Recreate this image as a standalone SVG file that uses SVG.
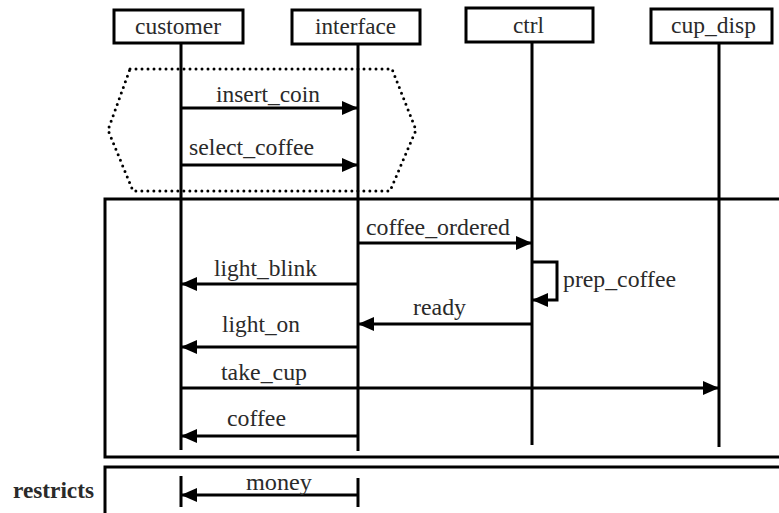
<svg xmlns="http://www.w3.org/2000/svg" width="779" height="513" viewBox="0 0 779 513">
<defs>
<marker id="ah" viewBox="0 0 16 14" refX="16" refY="7" markerWidth="16" markerHeight="14" markerUnits="userSpaceOnUse" orient="auto">
<path d="M0,0 L16,7 L0,14 Z" fill="#000"/>
</marker>
</defs>
<style>
.box{fill:#fff;stroke:#000;stroke-width:3}
.life{stroke:#000;stroke-width:3;fill:none}
.msg{stroke:#000;stroke-width:3;fill:none;marker-end:url(#ah)}
.frame{fill:none;stroke:#000;stroke-width:3}
text{font-family:"Liberation Serif","Times New Roman",serif;font-size:24px;fill:#2a2a2a}
</style>
<rect width="779" height="513" fill="#fff"/>
<!-- frames -->
<polygon points="130,69 392,69 416,130 390,191 133,191 108,130" fill="none" stroke="#000" stroke-width="3" stroke-dasharray="0 6" stroke-linecap="round"/>
<rect class="frame" x="105" y="199" width="690" height="258"/>
<rect class="frame" x="105" y="467" width="690" height="60"/>
<text x="13" y="498" textLength="81" lengthAdjust="spacingAndGlyphs" font-weight="bold" font-size="22">restricts</text>

<g id="customer">
<line class="life" x1="181" y1="43" x2="181" y2="450"/>
<rect class="box" x="114" y="10" width="129" height="33"/>
<text x="135" y="34" textLength="86" lengthAdjust="spacingAndGlyphs">customer</text>
</g>
<g id="interface">
<line class="life" x1="358" y1="44" x2="358" y2="451"/>
<rect class="box" x="292" y="10" width="128" height="34"/>
<text x="315" y="34" textLength="81" lengthAdjust="spacingAndGlyphs">interface</text>
</g>
<g id="ctrl">
<line class="life" x1="532" y1="42" x2="532" y2="445"/>
<rect class="box" x="466" y="8" width="127" height="34"/>
<text x="513" y="33" textLength="31" lengthAdjust="spacingAndGlyphs">ctrl</text>
</g>
<g id="cup_disp">
<line class="life" x1="719" y1="43" x2="719" y2="447"/>
<rect class="box" x="651" y="9" width="121" height="34"/>
<text x="671" y="33" textLength="85" lengthAdjust="spacingAndGlyphs">cup_disp</text>
</g>

<g id="connectors">
<line class="msg" x1="181" y1="108" x2="358" y2="108"/>
<text x="216" y="102" textLength="104" lengthAdjust="spacingAndGlyphs">insert_coin</text>
<line class="msg" x1="181" y1="165" x2="358" y2="165"/>
<text x="189" y="155" textLength="125" lengthAdjust="spacingAndGlyphs">select_coffee</text>
<line class="msg" x1="358" y1="243" x2="532" y2="243"/>
<text x="366" y="235" textLength="144" lengthAdjust="spacingAndGlyphs">coffee_ordered</text>
<line class="msg" x1="358" y1="284" x2="181" y2="284"/>
<text x="214" y="276" textLength="103" lengthAdjust="spacingAndGlyphs">light_blink</text>
<polyline class="msg" points="532,262 557,262 557,300 532,300"/>
<text x="563" y="287" textLength="113" lengthAdjust="spacingAndGlyphs">prep_coffee</text>
<line class="msg" x1="532" y1="324" x2="358" y2="324"/>
<text x="413" y="315" textLength="53" lengthAdjust="spacingAndGlyphs">ready</text>
<line class="msg" x1="358" y1="347" x2="181" y2="347"/>
<text x="222" y="332" textLength="78" lengthAdjust="spacingAndGlyphs">light_on</text>
<line class="msg" x1="181" y1="388" x2="719" y2="388"/>
<text x="221" y="380" textLength="86" lengthAdjust="spacingAndGlyphs">take_cup</text>
<line class="msg" x1="358" y1="436" x2="181" y2="436"/>
<text x="227" y="426" textLength="59" lengthAdjust="spacingAndGlyphs">coffee</text>
<line class="life" x1="181" y1="476" x2="181" y2="507"/>
<line class="life" x1="358" y1="478" x2="358" y2="507"/>
<line class="msg" x1="358" y1="495" x2="181" y2="495"/>
<text x="246" y="490" textLength="66" lengthAdjust="spacingAndGlyphs">money</text>
</g>
</svg>
